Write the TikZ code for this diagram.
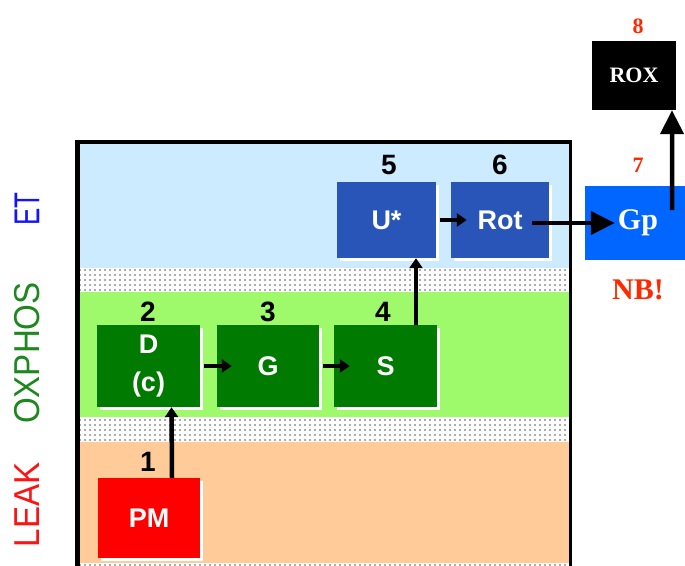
\documentclass[tikz,border=0pt]{standalone}
\usepackage{fontspec}
\setmainfont{Liberation Serif}
\setsansfont{Liberation Sans}
\usetikzlibrary{arrows.meta,patterns.meta,shadows}

\definecolor{etbg}{RGB}{204,235,255}
\definecolor{oxbg}{RGB}{158,250,106}
\definecolor{leakbg}{RGB}{255,204,153}
\definecolor{oxbox}{RGB}{0,122,0}
\definecolor{etbox}{RGB}{41,85,184}
\definecolor{gpblue}{RGB}{0,102,255}
\definecolor{nbred}{RGB}{255,40,0}
\definecolor{etlabel}{RGB}{20,20,250}
\definecolor{oxlabel}{RGB}{30,135,30}
\definecolor{leaklabel}{RGB}{250,20,20}

\tikzset{
    stepbox/.style={inner sep=0pt, text=white, align=center,
        font=\sffamily\bfseries\fontsize{27}{40}\selectfont,
        drop shadow={fill=white, opacity=1, shadow xshift=3pt, shadow yshift=-3pt}},
    serifbox/.style={inner sep=0pt, text=white, font=\rmfamily\bfseries},
    num/.style={inner sep=0pt, font=\sffamily\bfseries\fontsize{28}{28}\selectfont},
    rednum/.style={inner sep=0pt, text=nbred, font=\rmfamily\bfseries\fontsize{22}{22}\selectfont},
    statelabel/.style={rotate=90, inner sep=0pt, font=\sffamily\fontsize{36}{36}\selectfont},
    dotband/.style={pattern={Dots[distance=5pt, radius=0.8pt]}, pattern color=black!65},
    arr/.style={line width=4.5pt, -{Triangle[length=10pt, width=13pt]}},
    bigarr/.style={line width=4.5pt, -{Triangle[length=24pt, width=23pt]}}
}

\begin{document}
\begin{tikzpicture}[x=1pt, y=-1pt]
    \def\xl{77.5}
    \def\xr{570}

    \useasboundingbox (0,0) rectangle (685,565);
    \clip (0,0) rectangle (685,565);

    \fill[etbg] (\xl,142) rectangle (\xr,268);
    \fill[dotband] (\xl,268) rectangle (\xr,292);
    \fill[oxbg] (\xl,292) rectangle (\xr,417);
    \fill[dotband] (\xl,417) rectangle (\xr,442);
    \fill[leakbg] (\xl,442) rectangle (\xr,563);
    \fill[dotband] (\xl,563) rectangle (\xr,580);

    \draw[line width=4.5pt] (\xl,580) -- (\xl,142) -- (\xr,142);
    \draw[line width=3pt] (\xr,140) -- (\xr,580);

    \node[statelabel, text=etlabel] (et) at (27,209) {\scalebox{0.72}[1]{ET}};
    \node[statelabel, text=oxlabel] (oxphos) at (27,353) {\scalebox{0.92}[1]{OXPHOS}};
    \node[statelabel, text=leaklabel] (leak) at (27,505) {\scalebox{0.92}[1]{LEAK}};

    \node[stepbox, fill=red, minimum width=102pt, minimum height=80pt] (PM) at (149,518) {PM};
    \node[stepbox, fill=oxbox, minimum width=103pt, minimum height=82pt] (D) at (148.5,366) {D\\[-2pt](c)};
    \node[stepbox, fill=oxbox, minimum width=102pt, minimum height=82pt] (G) at (268,366) {G};
    \node[stepbox, fill=oxbox, minimum width=103pt, minimum height=82pt] (S) at (385.5,366) {S};
    \node[stepbox, fill=etbox, minimum width=99pt, minimum height=76pt] (U) at (386.5,220) {U*};
    \node[stepbox, fill=etbox, minimum width=98pt, minimum height=76pt] (Rot) at (500,220) {Rot};
    \node[serifbox, fill=gpblue, minimum width=106pt, minimum height=74pt, font=\rmfamily\bfseries\fontsize{30}{30}\selectfont] (Gp) at (638,223) {Gp};
    \node[serifbox, fill=black, minimum width=84pt, minimum height=69pt, font=\rmfamily\bfseries\fontsize{22}{22}\selectfont] (ROX) at (634,75.5) {ROX};

    \node[num] (n1) at (148,462) {1};
    \node[num] (n2) at (148,312) {2};
    \node[num] (n3) at (268,312) {3};
    \node[num] (n4) at (383,312) {4};
    \node[num] (n5) at (389,165) {5};
    \node[num] (n6) at (500,165) {6};
    \node[rednum] (n7) at (638,165) {7};
    \node[rednum] (n8) at (638,26) {8};
    \node[inner sep=0pt, text=nbred, font=\rmfamily\bfseries\fontsize{30}{30}\selectfont] (nb) at (638,290) {NB!};

    \draw[arr] ([xshift=23pt]PM.north) -- ([xshift=23pt]D.south);
    \draw[arr] ([xshift=4pt]D.east) -- ([xshift=15pt]G.west);
    \draw[arr] ([xshift=4pt]G.east) -- ([xshift=16pt]S.west);
    \draw[arr] ([xshift=30.5pt]S.north) -- ([xshift=29.5pt]U.south);
    \draw[arr] ([xshift=4pt]U.east) -- ([xshift=16pt]Rot.west);
    \draw[bigarr] ([xshift=-17pt, yshift=-3pt]Rot.east) -- ([xshift=30pt]Gp.west);
    \draw[bigarr] ([xshift=-19pt, yshift=13pt]Gp.east) -- ([xshift=38pt]ROX.south);
\end{tikzpicture}
\end{document}
